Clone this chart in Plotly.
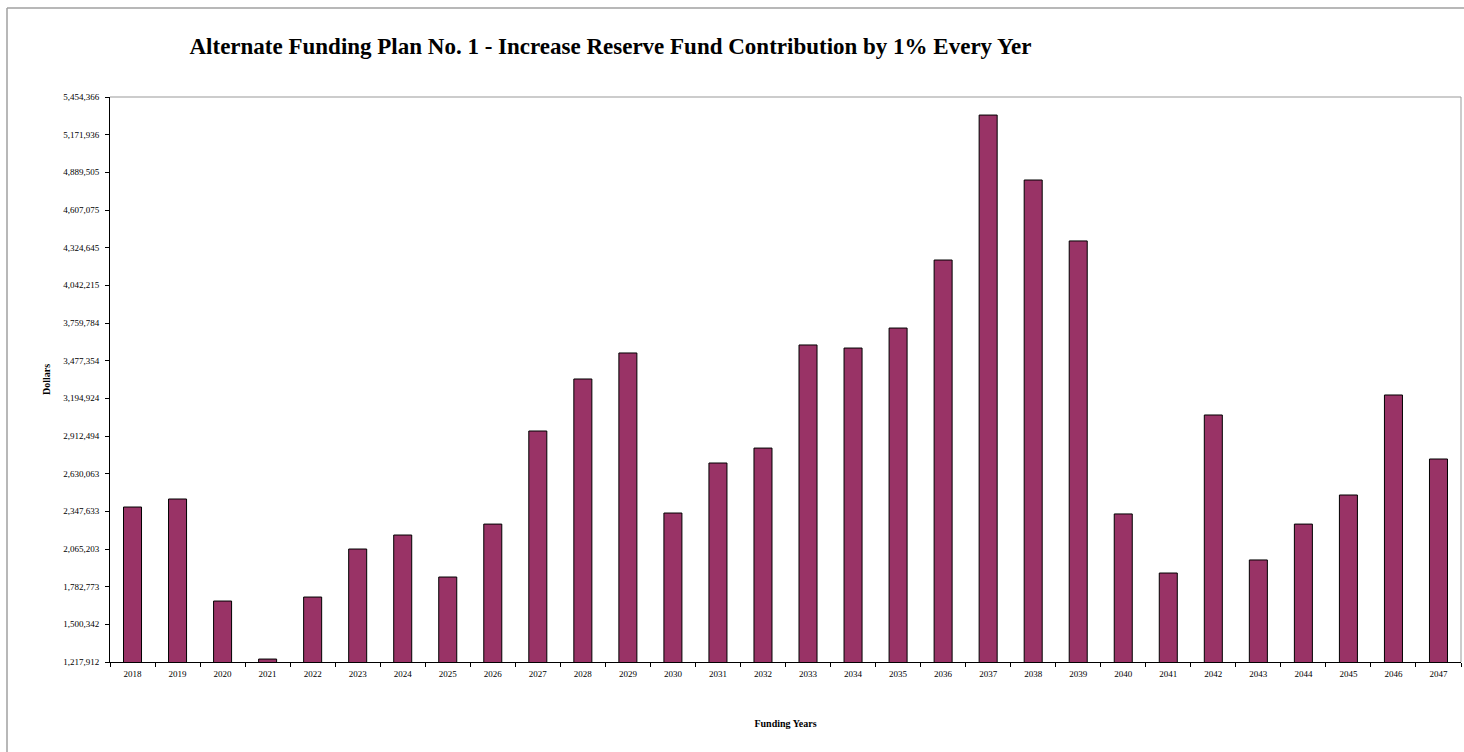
import plotly.graph_objects as go

years = [str(y) for y in range(2018, 2048)]
values = [2380000, 2440000, 1675000, 1240000, 1705000, 2065000, 2170000, 1855000, 2252000, 2950000,
          3340000, 3535000, 2335000, 2710000, 2822000, 3595000, 3572000, 3722000, 4232000, 5319000,
          4832000, 4375000, 2328000, 1885000, 3070000, 1983000, 2252000, 2470000, 3220000, 2740000]
tick_vals = [1217912, 1500342, 1782773, 2065203, 2347633, 2630063, 2912494, 3194924, 3477354,
             3759784, 4042215, 4324645, 4607075, 4889505, 5171936, 5454366]
tick_text = [f"{v:,}" for v in tick_vals]

title_text = "Alternate Funding Plan No. 1 - Increase Reserve Fund Contribution by 1% Every Yer"
font_family = "Liberation Serif, Times New Roman, serif"

W, H = 1464, 752
L, R, T, B = 110, 3, 97, 90
pw, ph = W - L - R, H - T - B

fig = go.Figure()
fig.add_trace(go.Bar(
    x=years, y=values, width=0.4,
    marker=dict(color="#993366", line=dict(color="#000000", width=1)),
))

fig.update_layout(
    width=W, height=H,
    paper_bgcolor="white", plot_bgcolor="white",
    margin=dict(l=L, r=R, t=T, b=B),
    showlegend=False,
    font=dict(family=font_family, color="#000000"),
    title=dict(text="<b>" + title_text + "</b>", x=0.417, xanchor="center", y=1 - 46 / H, yanchor="middle",
               font=dict(size=23, family=font_family, color="#000000")),
    xaxis=dict(
        type="category", tickson="boundaries", ticks="outside", ticklen=4, tickcolor="#000000",
        showline=True, linecolor="#000000", linewidth=1, showgrid=False,
        tickfont=dict(size=9, family=font_family), ticklabelstandoff=3,
        title=dict(text="<b>Funding Years</b>", font=dict(size=10, family=font_family), standoff=42),
        range=[-0.5, 29.5],
    ),
    yaxis=dict(
        range=[tick_vals[0], tick_vals[-1]], tickmode="array", tickvals=tick_vals, ticktext=tick_text,
        ticks="outside", ticklen=4, tickcolor="#000000", showline=True, linecolor="#000000", linewidth=1,
        showgrid=False, zeroline=False, tickfont=dict(size=9, family=font_family), ticklabelstandoff=4,
        title=dict(text="<b>Dollars</b>", font=dict(size=10, family=font_family), standoff=10),
    ),
    shapes=[
        dict(type="line", xref="paper", yref="paper", x0=0, x1=1, y0=1, y1=1,
             line=dict(color="#999999", width=1)),
        dict(type="line", xref="paper", yref="paper", x0=1, x1=1, y0=0, y1=1,
             line=dict(color="#999999", width=1)),
        dict(type="line", xref="paper", yref="paper", x0=(7 - L) / pw, x1=(7 - L) / pw,
             y0=-(B + 2) / ph, y1=1 + (T - 8) / ph,
             line=dict(color="#A0A0A0", width=1.5)),
        dict(type="line", xref="paper", yref="paper", x0=(7 - L) / pw, x1=1 + (R + 2) / pw,
             y0=1 + (T - 8) / ph, y1=1 + (T - 8) / ph,
             line=dict(color="#A0A0A0", width=1.5)),
    ],
)

fig.write_html("out.html", config={"displayModeBar": False},
               post_script="document.body.style.margin='0px';document.body.style.overflow='hidden';")
